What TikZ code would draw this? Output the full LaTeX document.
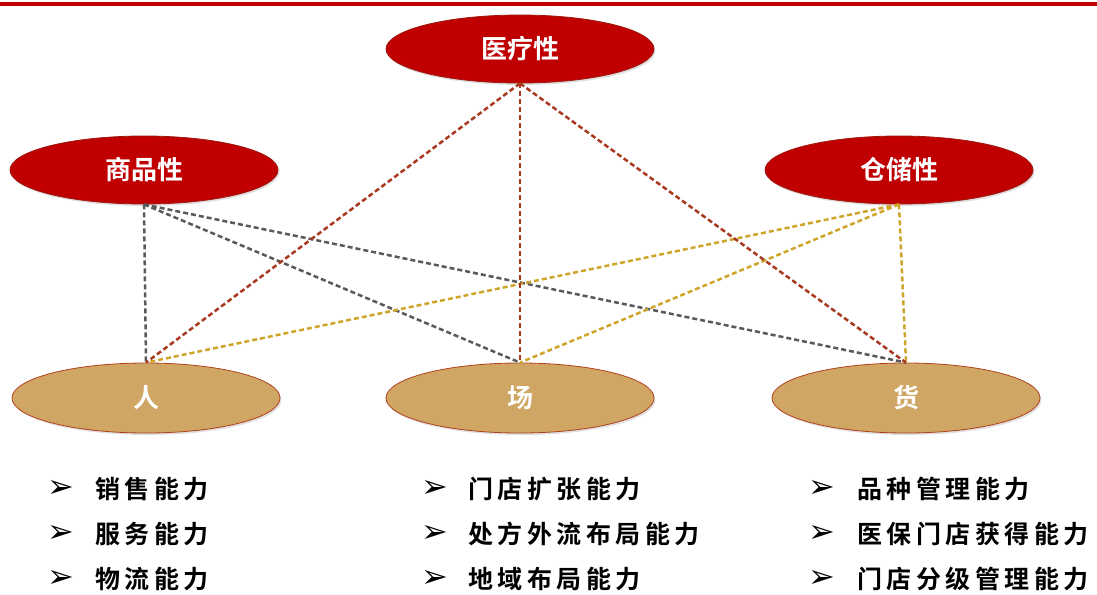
\documentclass[tikz,border=0pt]{standalone}
\usepackage{fontspec}
\usetikzlibrary{shapes.geometric,shadows}
\newfontfamily\cjk{Noto Sans CJK SC}
\newfontfamily\cjkb{Noto Sans CJK SC Bold}
\newfontfamily\cjkl[LetterSpace=18]{Noto Sans CJK SC Bold}
\newfontfamily\dejavu{DejaVu Sans}
\definecolor{topred}{HTML}{C00000}
\definecolor{redborder}{HTML}{9E1A10}
\definecolor{tan}{HTML}{D0A664}
\definecolor{tanborder}{HTML}{B0401E}
\definecolor{lred}{HTML}{A8391F}
\definecolor{lgray}{HTML}{595959}
\definecolor{lgold}{HTML}{CFA42A}
\tikzset{
  redell/.style={ellipse, fill=topred, draw=redborder, line width=0.8pt,
    minimum width=268pt, minimum height=68pt, inner sep=0pt, text=white,
    font=\cjkb\fontsize{26}{26}\selectfont,
    drop shadow={opacity=0.25, shadow xshift=1.5pt, shadow yshift=-2pt}},
  tanell/.style={ellipse, fill=tan, draw=tanborder, line width=0.8pt,
    minimum width=268pt, minimum height=70pt, inner sep=0pt, text=white,
    font=\cjkb\fontsize{26}{26}\selectfont,
    drop shadow={opacity=0.25, shadow xshift=1.5pt, shadow yshift=-2pt}},
  link/.style={dash pattern=on 5pt off 3pt, line width=2.5pt},
  bul/.style={anchor=center, inner sep=0pt, font=\dejavu\fontsize{32}{32}\selectfont},
  item/.style={anchor=west, inner sep=0pt, font=\cjkl\fontsize{25}{25}\selectfont}
}
\begin{document}
\begin{tikzpicture}[x=1pt,y=-1pt]
\useasboundingbox (0,0) rectangle (1097,594);
\fill[topred] (0,2) rectangle (1097,6);
% ellipses
\node[redell] (med) at (520,49) {医疗性};
\node[redell] (com) at (144,170) {商品性};
\node[redell] (sto) at (899,170) {仓储性};
\node[tanell] (ren) at (146,398) {人};
\node[tanell] (chang) at (520,398) {场};
\node[tanell] (huo) at (906,398) {货};
% connectors
\draw[link, lgray] (com.south) -- (ren.north);
\draw[link, lgray] (com.south) -- (chang.north);
\draw[link, lgray] (com.south) -- (huo.north);
\draw[link, lgold] (sto.south) -- (ren.north);
\draw[link, lgold] (sto.south) -- (chang.north);
\draw[link, lgold] (sto.south) -- (huo.north);
\draw[link, lred] (med.south) -- (ren.north);
\draw[link, lred] (med.south) -- (chang.north);
\draw[link, lred] (med.south) -- (huo.north);
% lists
\node[bul] (b11) at (61,489) {➢};
\node[item] (t11) at (95,489) {销售能力};
\node[bul] (b12) at (61,534) {➢};
\node[item] (t12) at (95,534) {服务能力};
\node[bul] (b13) at (61,579) {➢};
\node[item] (t13) at (95,579) {物流能力};
\node[bul] (b21) at (435,489) {➢};
\node[item] (t21) at (468,489) {门店扩张能力};
\node[bul] (b22) at (435,534) {➢};
\node[item] (t22) at (468,534) {处方外流布局能力};
\node[bul] (b23) at (435,579) {➢};
\node[item] (t23) at (468,579) {地域布局能力};
\node[bul] (b31) at (822,489) {➢};
\node[item] (t31) at (857,489) {品种管理能力};
\node[bul] (b32) at (822,534) {➢};
\node[item] (t32) at (857,534) {医保门店获得能力};
\node[bul] (b33) at (822,579) {➢};
\node[item] (t33) at (857,579) {门店分级管理能力};
\end{tikzpicture}
\end{document}
